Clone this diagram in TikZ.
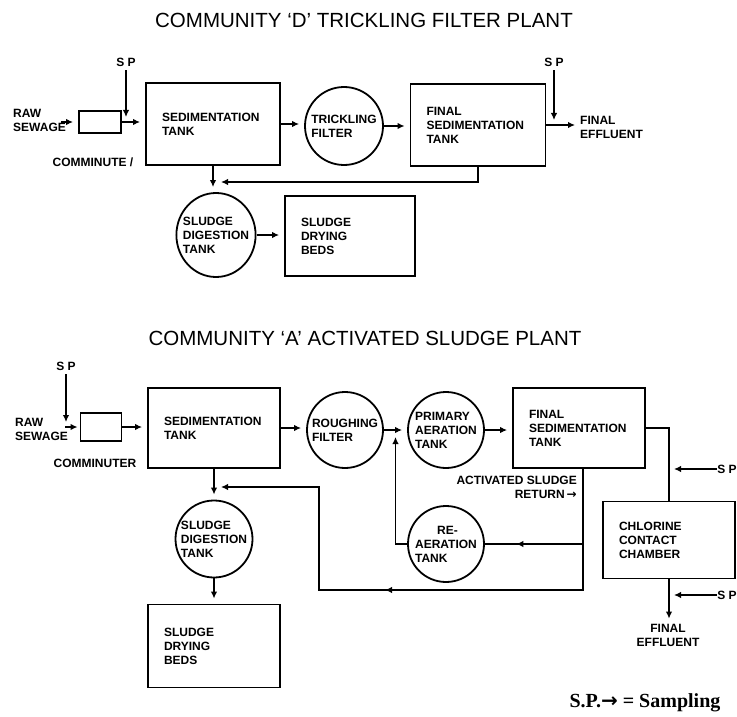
\documentclass[tikz,border=0pt]{standalone}
\usepackage{fontspec}
\setmainfont{Liberation Sans}
\newfontfamily\legendfont{Liberation Serif}
\newfontfamily\arrowfont{DejaVu Sans}
\usepackage{tikz}
\usetikzlibrary{calc,shapes,arrows.meta}
\newcommand\lblfont{\bfseries\fontsize{12}{14}\selectfont}
\tikzstyle{tankbox}=[rectangle,draw=black,line width=1.8pt,font=\lblfont,
                     align=left,inner xsep=16pt,inner ysep=0pt]
\tikzstyle{tankcirc}=[circle,draw=black,line width=1.8pt,font=\lblfont,
                      align=left,inner sep=0pt,minimum size=78pt]
\tikzstyle{lbl}=[font=\lblfont,inner sep=0pt]
\tikzstyle{plantitle}=[font=\fontsize{20.5}{23}\selectfont,inner sep=0pt]
\tikzstyle{pipe}=[line width=1.8pt]
\tikzstyle{flow}=[pipe,-{Latex[length=7pt,width=6.5pt]}]
\tikzstyle{gapped}=[shorten >=5pt]
\newcommand\rowA{124}
\newcommand\rowB{428}

\begin{document}
\begin{tikzpicture}[x=1pt,y=-1pt]
    \useasboundingbox (0,0) rectangle (737,717);
    % community D, trickling filter plant
    \node [plantitle] (TitleD) at (364,20) {COMMUNITY ‘D’ TRICKLING FILTER PLANT};
    \node [lbl] (SpD1) at (126,62) {S P};
    \node [lbl] (SpD2) at (554,62) {S P};
    \node [lbl,align=left,anchor=west] (RawD) at ($(13,\rowA-4)$) {RAW\\SEWAGE};
    \node [tankbox,minimum width=42pt,minimum height=22pt] (CommD) at ($(100,\rowA-2)$) {};
    \node [lbl] (CommLblD) at (93,162) {COMMINUTE /};
    \node [tankbox,text width=102pt,minimum height=82pt] (SedD) at ($(213,\rowA)$) {
        SEDIMENTATION\\TANK};
    \node [tankcirc] (FilterD) at ($(344,\rowA+2)$) {TRICKLING\\FILTER};
    \node [tankbox,text width=103pt,minimum height=82pt] (FinalD) at ($(478,\rowA+1)$) {
        FINAL\\SEDIMENTATION\\TANK};
    \node [lbl,align=left,anchor=west] (EffD) at ($(580,\rowA+3)$) {FINAL\\EFFLUENT};
    \node [tankcirc,ellipse,inner xsep=-5pt,minimum width=76pt,minimum height=84pt]
        (DigestD) at (216,235) {SLUDGE\\DIGESTION\\TANK};
    \node [tankbox,text width=98pt,minimum height=80pt] (BedsD) at (350,236) {
        SLUDGE\\DRYING\\BEDS};
    \coordinate (RetD) at (221,182);

    \draw [flow,gapped] ([xshift=-5pt]RawD.east |- CommD.west) -- (CommD.west);
    \draw [flow,gapped] (CommD.east) -- (SedD.west |- CommD.east);
    \draw [flow,gapped,shorten <=4pt] (SpD1.south) -- (SpD1.south |- CommD.east);
    \draw [flow,gapped] (SedD.east) -- (FilterD.west |- SedD.east);
    \draw [flow,gapped] (FilterD.east) -- (FinalD.west |- FilterD.east);
    \draw [flow,gapped] (FinalD.east) -- (EffD.west |- FinalD.east);
    \draw [flow,gapped,shorten <=4pt] (SpD2.south) -- (SpD2.south |- FinalD.east);
    \draw [flow] (FinalD.south) |- (RetD);
    \draw [flow,gapped] (SedD.south) -- (SedD.south |- DigestD.north);
    \draw [flow,gapped] (DigestD.east) -- (BedsD.west |- DigestD.east);

    % community A, activated sludge plant
    \node [plantitle] (TitleA) at (365,338) {COMMUNITY ‘A’ ACTIVATED SLUDGE PLANT};
    \node [lbl] (SpA1) at (66,366) {S P};
    \node [lbl,align=left,anchor=west] (RawA) at ($(15,\rowB+1)$) {RAW\\SEWAGE};
    \node [tankbox,minimum width=41pt,minimum height=28pt] (CommA) at ($(101,\rowB-1)$) {};
    \node [lbl] (CommLblA) at (95,463) {COMMINUTER};
    \node [tankbox,text width=100pt,minimum height=80pt] (SedA) at ($(214,\rowB)$) {
        SEDIMENTATION\\TANK};
    \node [tankcirc,minimum size=76pt] (RoughA) at ($(345,\rowB+2)$) {ROUGHING\\FILTER};
    \node [tankcirc,minimum size=76pt] (PrimA) at ($(446,\rowB+2)$) {
        PRIMARY\\AERATION\\TANK};
    \node [tankbox,text width=100pt,minimum height=80pt] (FinalA) at ($(579,\rowB)$) {
        FINAL\\SEDIMENTATION\\TANK};
    \node [lbl,align=right,anchor=east] (RetLbl) at (577,487) {
        ACTIVATED SLUDGE\\RETURN\,{\arrowfont →}};
    \node [tankcirc,minimum size=76pt] (ReaerA) at (446,544) {
        \hspace*{22pt}RE-\\AERATION\\TANK};
    \node [tankbox,text width=100pt,minimum height=77pt] (ChlorA) at (669,540) {
        CHLORINE\\CONTACT\\CHAMBER};
    \node [lbl] (SpA2) at (727,469) {S P};
    \node [lbl] (SpA3) at (727,595) {S P};
    \node [lbl,align=center] (EffA) at (668,635) {FINAL\\EFFLUENT};
    \node [tankcirc,minimum size=77pt] (DigestA) at (214,539) {
        SLUDGE\\DIGESTION\\TANK};
    \node [tankbox,text width=100pt,minimum height=83pt] (BedsA) at (214,646) {
        SLUDGE\\DRYING\\BEDS};
    \node [font=\legendfont\bfseries\fontsize{20}{23}\selectfont,inner sep=0pt]
        (Legend) at (645,703) {S.P.{\arrowfont →} = Sampling};
    \coordinate (TeeA) at (583,544);
    \coordinate (BendA1) at (583,590);
    \coordinate (BendA2) at (319,590);
    \coordinate (RetA) at (221,487);
    \coordinate (MixA) at ($(RoughA.east)!0.5!(PrimA.west)$);

    \draw [flow,gapped,shorten <=4pt] (SpA1.south) -- (SpA1.south |- CommA.west);
    \draw [flow] ([xshift=-3pt]RawA.east |- CommA.west) -- ([xshift=-2pt]CommA.west);
    \draw [flow,gapped] (CommA.east) -- (SedA.west |- CommA.east);
    \draw [flow,gapped] (SedA.east) -- (RoughA.west |- SedA.east);
    \draw [flow,gapped] (RoughA.east) -- (PrimA.west);
    \draw [flow,gapped] (PrimA.east) -- (FinalA.west |- PrimA.east);
    \draw [pipe] (FinalA.east) -| (ChlorA.north);
    \draw [flow,gapped] (SpA2.west) -- (SpA2.west -| ChlorA.north);
    \draw [flow,gapped] (ChlorA.south) -- (ChlorA.south |- EffA.north);
    \draw [flow,gapped] (SpA3.west) -- (SpA3.west -| ChlorA.south);
    \draw [flow] ([xshift=4pt]FinalA.south) -- (BendA1) -- (BendA2) |- (RetA);
    \draw [flow] (BendA1) -- ($(BendA1)!0.75!(BendA2)$);
    \draw [pipe] (TeeA) -- (ReaerA.east);
    \draw [flow] (TeeA) -- ($(TeeA)!0.68!(ReaerA.east)$);
    \draw [flow,shorten >=7pt] (ReaerA.west) -| (MixA);
    \draw [flow,gapped] (SedA.south) -- (DigestA.north);
    \draw [flow,gapped] (DigestA.south) -- (BedsA.north);
\end{tikzpicture}
\end{document}
